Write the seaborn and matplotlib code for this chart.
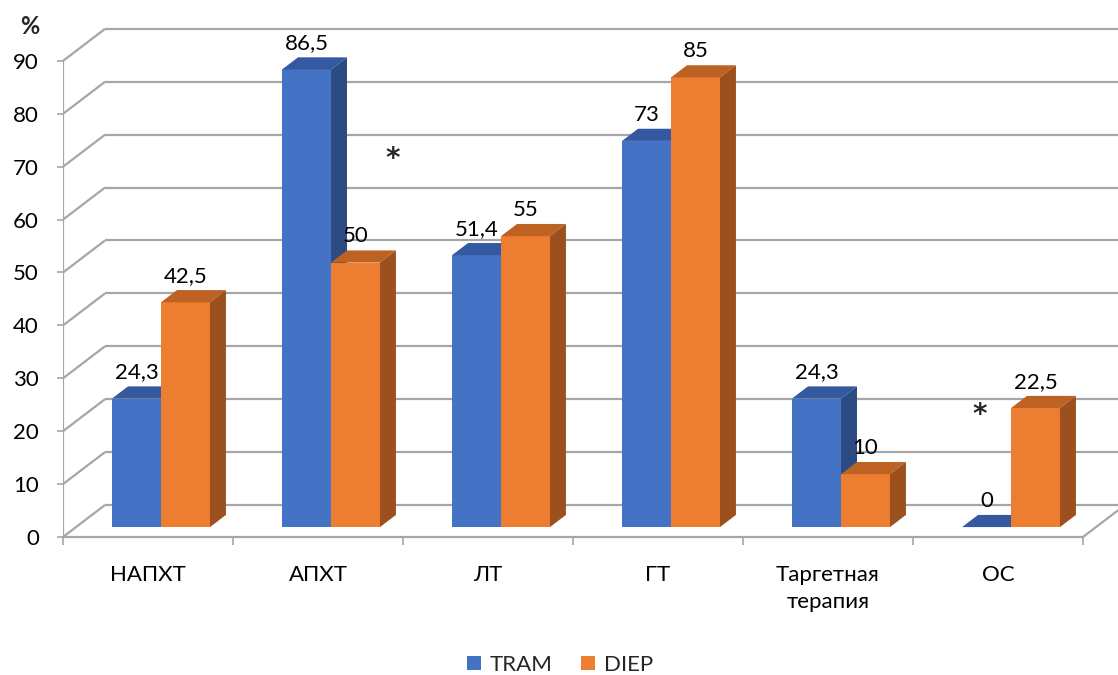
import matplotlib
matplotlib.use("Agg")
import matplotlib.pyplot as plt
from matplotlib.patches import Polygon, Patch
import seaborn as sns
import pandas as pd

# Data
categories = ["НАПХТ", "АПХТ", "ЛТ", "ГТ", "Таргетная\nтерапия", "ОС"]
tram = [24.3, 86.5, 51.4, 73, 24.3, 0]
diep = [42.5, 50, 55, 85, 10, 22.5]
series = ["TRAM", "DIEP"]
y_ticks = [0, 10, 20, 30, 40, 50, 60, 70, 80, 90]

front_colors = {"TRAM": "#4472C4", "DIEP": "#ED7D31"}
top_colors = {"TRAM": "#3459A0", "DIEP": "#BD6222"}
side_colors = {"TRAM": "#2C4B82", "DIEP": "#9C501D"}
grid_color = "#A6A6A6"

df = pd.DataFrame({
    "group": categories * 2,
    "value": tram + diep,
    "series": ["TRAM"] * len(categories) + ["DIEP"] * len(categories),
})

sns.set_theme(style="white")
plt.rcParams["font.family"] = ["Lato", "DejaVu Sans"]
FS = 16

W, H = 1118, 675
fig = plt.figure(figsize=(W / 100, H / 100), dpi=100)

# pseudo-3D geometry (category units / percent units)
slot_px = 170.0
px_per_unit = 5.29
depth_dx = 42 / slot_px          # back wall shift along x
depth_dy = 32 / px_per_unit      # back wall shift along y
front_frac = 0.31                # depth of bar front faces
bar_frac = 0.38                  # bar thickness

left_px, zero_px, top_px = 63, 537, 18
x_lo = -0.5
x_hi = len(categories) - 0.5 + depth_dx
y_hi = (zero_px - top_px) / px_per_unit
ax_w = (x_hi - x_lo) * slot_px
ax = fig.add_axes([left_px / W, (H - zero_px) / H, ax_w / W, (zero_px - top_px) / H])

sns.barplot(data=df, x="group", y="value", hue="series", hue_order=series,
            order=categories, palette=front_colors, width=0.576, saturation=1,
            dodge=True, legend=False, ax=ax, zorder=2, linewidth=0)

ax.set_xlim(x_lo, x_hi)
ax.set_ylim(0, y_hi)
for s in ax.spines.values():
    s.set_visible(False)
ax.grid(False)

# walls, floor and gridlines
lw = 1.6
n = len(categories)
for v in y_ticks:
    ax.plot([x_lo, x_lo + depth_dx], [v, v + depth_dy], color=grid_color, lw=lw,
            zorder=1, clip_on=False, solid_capstyle="butt")
    ax.plot([x_lo + depth_dx, n - 0.5 + depth_dx], [v + depth_dy, v + depth_dy],
            color=grid_color, lw=lw, zorder=1, clip_on=True, solid_capstyle="butt")
ax.plot([x_lo, x_lo], [0, y_ticks[-1]], color=grid_color, lw=lw, zorder=1.5)
ax.plot([x_lo, n - 0.5], [0, 0], color=grid_color, lw=lw, zorder=1.5, clip_on=False)
ax.plot([n - 0.5, n - 0.5 + depth_dx], [0, depth_dy], color=grid_color, lw=lw,
        zorder=1.5, clip_on=False)

# turn flat bars into boxes
fdx, fdy = front_frac * depth_dx, front_frac * depth_dy
bdx, bdy = bar_frac * depth_dx, bar_frac * depth_dy
for k, (name, container) in enumerate(zip(series, ax.containers)):
    z = 2 + k
    for bar in container:
        x0, w, h = bar.get_x() + fdx, bar.get_width(), bar.get_height()
        y0 = fdy
        bar.set_x(x0)
        bar.set_y(y0)
        bar.set_zorder(z)
        top = [(x0, y0 + h), (x0 + w, y0 + h), (x0 + w + bdx, y0 + h + bdy),
               (x0 + bdx, y0 + h + bdy)]
        side = [(x0 + w, y0), (x0 + w + bdx, y0 + bdy),
                (x0 + w + bdx, y0 + h + bdy), (x0 + w, y0 + h)]
        ax.add_patch(Polygon(top, closed=True, facecolor=top_colors[name],
                             edgecolor="none", zorder=z + 0.1))
        ax.add_patch(Polygon(side, closed=True, facecolor=side_colors[name],
                             edgecolor="none", zorder=z + 0.1))
        label = f"{h:g}".replace(".", ",")
        ax.annotate(label, (x0 + w / 2, y0 + h + bdy), xytext=(0, 3),
                    textcoords="offset points", ha="center", va="bottom",
                    fontsize=FS, color="black", zorder=10)

# significance marks
for sx, sy in [(1.44, 71.5), (4.89, 23.0)]:
    ax.text(sx, sy, "*", fontsize=20, fontweight="bold", ha="center",
            va="center", zorder=10, family="DejaVu Sans")

# axes ticks
ax.set_yticks(y_ticks)
ax.set_yticklabels([str(v) for v in y_ticks])
ax.set_xticks(range(n))
ax.set_xticklabels(categories)
for lbl in ax.get_xticklabels():
    lbl.set_linespacing(1.45)
ax.set_xticks([i - 0.5 for i in range(n + 1)], minor=True)
ax.tick_params(axis="y", which="major", left=True, direction="out", length=4.3,
               width=1.2, color=grid_color, pad=13, labelsize=FS, labelcolor="black")
ax.tick_params(axis="x", which="major", bottom=True, length=0, pad=20,
               labelsize=FS, labelcolor="black")
ax.tick_params(axis="x", which="minor", bottom=True, direction="out", length=6,
               width=1.2, color=grid_color)
ax.set_xlabel("")
ax.set_ylabel("")

fig.text(30 / W, 1 - 26 / H, "%", fontsize=FS + 1, fontweight="bold",
         ha="center", va="center")

handles = [Patch(facecolor=front_colors[s], edgecolor="none", label=s) for s in series]
fig.legend(handles=handles, loc="center", bbox_to_anchor=(560 / W, 1 - 665 / H),
           ncol=2, frameon=False, fontsize=FS, handlelength=0.6, handleheight=0.6,
           handletextpad=0.4, columnspacing=1.3)

fig.savefig("out.png", dpi=100, facecolor="white")
